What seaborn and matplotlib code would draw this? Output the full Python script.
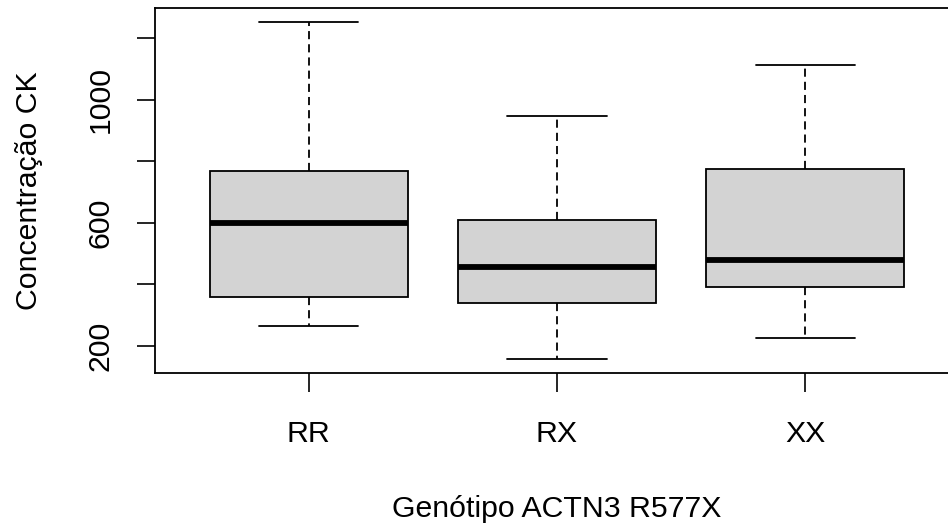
import matplotlib
matplotlib.use("Agg")
import matplotlib.pyplot as plt
import seaborn as sns
import pandas as pd

# Five-number summaries (whiskers = min/max)
genotypes = ["RR", "RX", "XX"]
mins = [264, 156, 226]
q1s = [360, 341, 392]
medians = [600, 457, 481]
q3s = [769, 609, 774]
maxs = [1255, 949, 1114]

y_ticks = [200, 400, 600, 800, 1000, 1200]
y_ticklabels = ["200", "", "600", "", "1000", ""]
x_label = "Genótipo ACTN3 R577X"
y_label = "Concentração CK"

rows = []
for g, a, b, c, d, e in zip(genotypes, mins, q1s, medians, q3s, maxs):
    for v in (a, b, c, d, e):
        rows.append({"genotipo": g, "ck": v})
df = pd.DataFrame(rows)

sns.set_theme(style="white")
plt.rcParams["font.family"] = ["Liberation Sans", "DejaVu Sans"]

fig = plt.figure(figsize=(9.48, 5.26), dpi=100)
W, H = 948, 526
left, right, top, bottom = 155, 959, 8, 373
ax = fig.add_axes([left / W, 1 - bottom / H, (right - left) / W, (bottom - top) / H])

lw = 1.3
fs = 21.8
sns.boxplot(
    data=df, x="genotipo", y="ck", order=genotypes, ax=ax,
    whis=(0, 100), width=0.8, color="#D3D3D3", linecolor="black",
    linewidth=lw, saturation=1,
    boxprops=dict(edgecolor="black", linewidth=lw),
    medianprops=dict(color="black", linewidth=4.2, solid_capstyle="butt"),
    whiskerprops=dict(color="black", linewidth=lw, linestyle=(0, (4.5, 2.8))),
    capprops=dict(color="black", linewidth=lw),
)

ax.set_xlim(-0.62, 2.62)
ax.set_ylim(112, 1299)
ax.set_yticks(y_ticks)
ax.set_yticklabels(y_ticklabels, rotation=90, va="center", fontsize=fs)
ax.set_xticks(range(len(genotypes)))
ax.set_xticklabels(genotypes, fontsize=fs)

for s in ax.spines.values():
    s.set_visible(True)
    s.set_color("black")
    s.set_linewidth(1.3)

ax.tick_params(axis="both", which="both", direction="out",
               width=1.2, color="black", labelcolor="black",
               bottom=True, left=True, top=False, right=False)
ax.tick_params(axis="y", length=13, pad=16)
ax.tick_params(axis="x", length=14, pad=20)

ax.set_xlabel(x_label, fontsize=fs, color="black")
ax.xaxis.label.set_verticalalignment("baseline")
ax.xaxis.set_label_coords(0.5, (bottom - 517) / (bottom - top))

ax.set_ylabel(y_label, fontsize=fs, color="black", rotation=90,
              rotation_mode="anchor", ha="center", va="baseline")
ax.yaxis.set_label_coords((37 - left) / (right - left), 0.5)

fig.savefig("out.png", dpi=100)
